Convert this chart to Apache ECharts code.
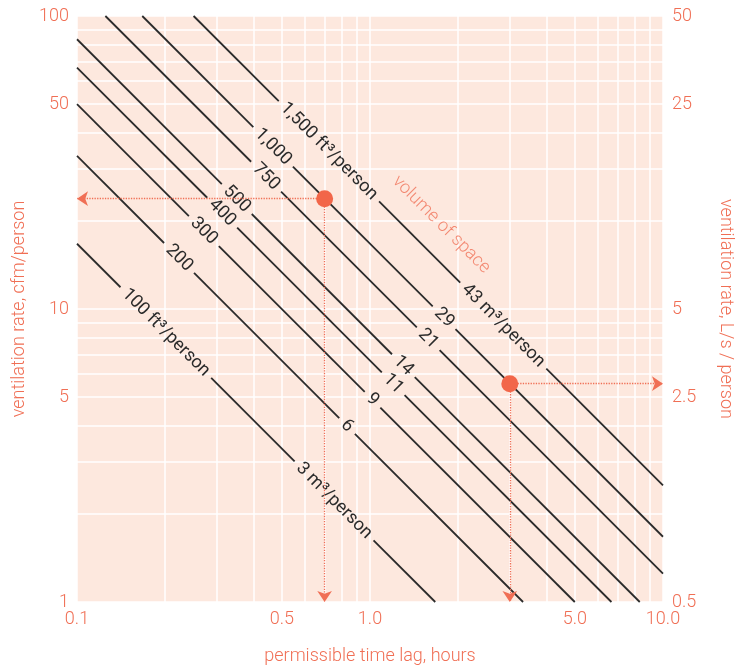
<!DOCTYPE html>
<html>
<head>
<meta charset="utf-8">
<script src="https://cdn.jsdelivr.net/npm/echarts@6/dist/echarts.min.js"></script>
<style>
  html, body { margin: 0; padding: 0; background: #ffffff; }
  #chart { width: 735px; height: 665px; }
</style>
</head>
<body>
<div id="chart"></div>
<script>
// Space volume per person for each line, ft³/person, with metric labels
const volumesFt3 = [100, 200, 300, 400, 500, 750, 1000, 1500];
const labelsFt3 = ['100 ft³/person', '200', '300', '400', '500', '750', '1,000', '1,500 ft³/person'];
const labelsM3 = ['3 m³/person', '6', '9', '11', '14', '21', '29', '43 m³/person'];

// Line end points: [time lag (hours), ventilation rate (cfm/person)]
const lineStarts = [[0.1, 16.7], [0.1, 33.3], [0.1, 50], [0.1, 66.7], [0.1, 83.3], [0.125, 100], [0.167, 100], [0.25, 100]];
const lineEnds = [[1.67, 1], [3.33, 1], [5, 1], [6.67, 1], [8.33, 1], [10, 1.25], [10, 1.67], [10, 2.5]];

// Time lag (hours) at which each line carries its ft³ and m³ labels
const labelTimeFt3 = [0.201, 0.223, 0.271, 0.313, 0.351, 0.442, 0.467, 0.724];
const labelTimeM3 = [0.754, 0.835, 1.02, 1.20, 1.30, 1.58, 1.79, 2.85];

// Worked examples on the 1,000 ft³/person line: [time lag, cfm/person]
const examplePoints = [[0.7, 23.8], [3, 5.56]];

// Annotation position: [time lag, cfm/person]
const annotationPoint = [1.75, 19.4];

// Axis tick labels
const xTickValues = [0.1, 0.5, 1, 5, 10];
const yTickCfm = [1, 5, 10, 50, 100];
const yTickLs = [0.5, 2.5, 5, 25, 50];

const ORANGE = '#f06f55';
const DOT = '#f26649';
const INK = '#2b2b2b';
const FONT = 'Roboto, "Liberation Sans", sans-serif';
const FONT_SIZE = 18;
const LINE_LABEL_WEIGHT = 400;
const AXIS_WEIGHT = 300;

// Log grid positions 1..9 x 10^k inside a range
function logGrid(lo, hi) {
  const out = [];
  for (let e = Math.floor(Math.log10(lo)); e <= Math.ceil(Math.log10(hi)); e++) {
    for (let m = 1; m <= 9; m++) {
      const v = +(m * Math.pow(10, e)).toPrecision(6);
      if (v >= lo - 1e-9 && v <= hi + 1e-9) out.push(v);
    }
  }
  return out;
}
const xGrid = logGrid(0.1, 10);
const yGrid = logGrid(1, 100);

// Text width for cutting gaps into the lines under labels
const measureCtx = document.createElement('canvas').getContext('2d');
function textWidth(s) {
  measureCtx.font = LINE_LABEL_WEIGHT + ' ' + FONT_SIZE + 'px ' + FONT;
  return measureCtx.measureText(s).width;
}

const lineData = volumesFt3.map((v, i) => [
  lineStarts[i][0], lineStarts[i][1], lineEnds[i][0], lineEnds[i][1],
  labelTimeFt3[i], labelTimeM3[i]
]);

function renderVolumeLine(params, api) {
  const i = params.dataIndex;
  const t0 = api.value(0), q0 = api.value(1), t1 = api.value(2), q1 = api.value(3);
  const p0 = api.coord([t0, q0]);
  const p1 = api.coord([t1, q1]);
  const k = Math.log(q1 / q0) / Math.log(t1 / t0);
  const onLine = t => api.coord([t, q0 * Math.pow(t / t0, k)]);
  const dx = p1[0] - p0[0], dy = p1[1] - p0[1];
  const len = Math.hypot(dx, dy);
  const ux = dx / len, uy = dy / len;
  const rot = -Math.atan2(uy, ux);
  const pad = 6;

  const labels = [
    { text: labelsFt3[i], c: onLine(api.value(4)) },
    { text: labelsM3[i], c: onLine(api.value(5)) }
  ].map(l => {
    const s = (l.c[0] - p0[0]) * ux + (l.c[1] - p0[1]) * uy;
    const h = textWidth(l.text) / 2 + pad;
    return Object.assign(l, { s: s, h: h });
  }).sort((a, b) => a.s - b.s);

  const cuts = [0];
  labels.forEach(l => { cuts.push(l.s - l.h, l.s + l.h); });
  cuts.push(len);

  const children = [];
  for (let j = 0; j < cuts.length; j += 2) {
    const a = Math.max(0, cuts[j]), b = Math.min(len, cuts[j + 1]);
    if (b <= a) continue;
    children.push({
      type: 'line',
      shape: { x1: p0[0] + ux * a, y1: p0[1] + uy * a, x2: p0[0] + ux * b, y2: p0[1] + uy * b },
      style: { stroke: INK, lineWidth: 1.8, lineCap: 'butt' }
    });
  }
  labels.forEach(l => {
    children.push({
      type: 'text',
      x: l.c[0], y: l.c[1],
      rotation: rot,
      style: {
        text: l.text, fill: INK, align: 'center', verticalAlign: 'middle',
        fontSize: FONT_SIZE, fontFamily: FONT, fontWeight: LINE_LABEL_WEIGHT
      }
    });
  });
  return { type: 'group', children: children };
}

const axisText = { color: ORANGE, fontSize: FONT_SIZE, fontFamily: FONT, fontWeight: AXIS_WEIGHT };
const fmt = v => String(+(+v).toPrecision(3));

const chart = echarts.init(document.getElementById('chart'), null, { renderer: 'canvas' });
chart.setOption({
  animation: false,
  grid: {
    left: 77, right: 72, top: 16, bottom: 63,
    outerBoundsMode: 'none',
    containLabel: false,
    show: true, backgroundColor: '#fde8de', borderWidth: 0
  },
  xAxis: {
    type: 'log', logBase: 10, min: 0.1, max: 10,
    name: 'permissible time lag, hours', nameLocation: 'middle', nameGap: 45,
    nameTextStyle: axisText,
    axisLine: { show: false },
    axisTick: { show: false, customValues: xGrid },
    axisLabel: Object.assign({ customValues: xTickValues, margin: 8, formatter: v => (+v).toFixed(1) }, axisText),
    splitLine: { show: true, lineStyle: { color: '#ffffff', width: 1.5 } }
  },
  yAxis: [{
    type: 'log', logBase: 10, min: 1, max: 100,
    name: 'ventilation rate, cfm/person', nameLocation: 'middle', nameGap: 49,
    nameTextStyle: axisText,
    axisLine: { show: false },
    axisTick: { show: false, customValues: yGrid },
    axisLabel: Object.assign({ customValues: yTickCfm, margin: 8, formatter: fmt }, axisText),
    splitLine: { show: true, lineStyle: { color: '#ffffff', width: 1.5 } }
  }, {
    type: 'log', logBase: 10, min: 0.5, max: 50, position: 'right',
    name: 'ventilation rate, L/s / person', nameLocation: 'middle', nameGap: 53, nameRotate: -90,
    nameTextStyle: axisText,
    axisLine: { show: false },
    axisTick: { show: false },
    axisLabel: Object.assign({ customValues: yTickLs, margin: 9, formatter: fmt }, axisText),
    splitLine: { show: false }
  }],
  series: [{
    type: 'custom',
    name: 'volume lines',
    xAxisIndex: 0, yAxisIndex: 0,
    data: lineData,
    encode: { x: [0, 2, 4, 5], y: [1, 3] },
    renderItem: renderVolumeLine,
    silent: true,
    z: 3
  }, {
    type: 'scatter',
    name: 'annotation',
    xAxisIndex: 0, yAxisIndex: 0,
    data: [annotationPoint],
    symbolSize: 0,
    silent: true,
    label: {
      show: true, position: 'inside', formatter: 'volume of space', rotate: -45,
      color: ORANGE, fontSize: FONT_SIZE, fontFamily: FONT, fontWeight: AXIS_WEIGHT
    },
    z: 3
  }, {
    type: 'scatter',
    name: 'examples',
    xAxisIndex: 0, yAxisIndex: 0,
    data: examplePoints,
    symbolSize: 17,
    itemStyle: { color: DOT, opacity: 1 },
    silent: true,
    z: 5,
    markLine: {
      silent: true,
      symbol: ['none', 'arrow'],
      symbolSize: 11,
      label: { show: false },
      lineStyle: { color: ORANGE, type: 'dotted', width: 1.3, opacity: 1 },
      emphasis: { disabled: true },
      data: [
        [{ coord: examplePoints[0] }, { coord: [0.1, examplePoints[0][1]] }],
        [{ coord: examplePoints[0] }, { coord: [examplePoints[0][0], 1] }],
        [{ coord: examplePoints[1] }, { coord: [10, examplePoints[1][1]] }],
        [{ coord: examplePoints[1] }, { coord: [examplePoints[1][0], 1] }]
      ]
    }
  }]
});
</script>
</body>
</html>
